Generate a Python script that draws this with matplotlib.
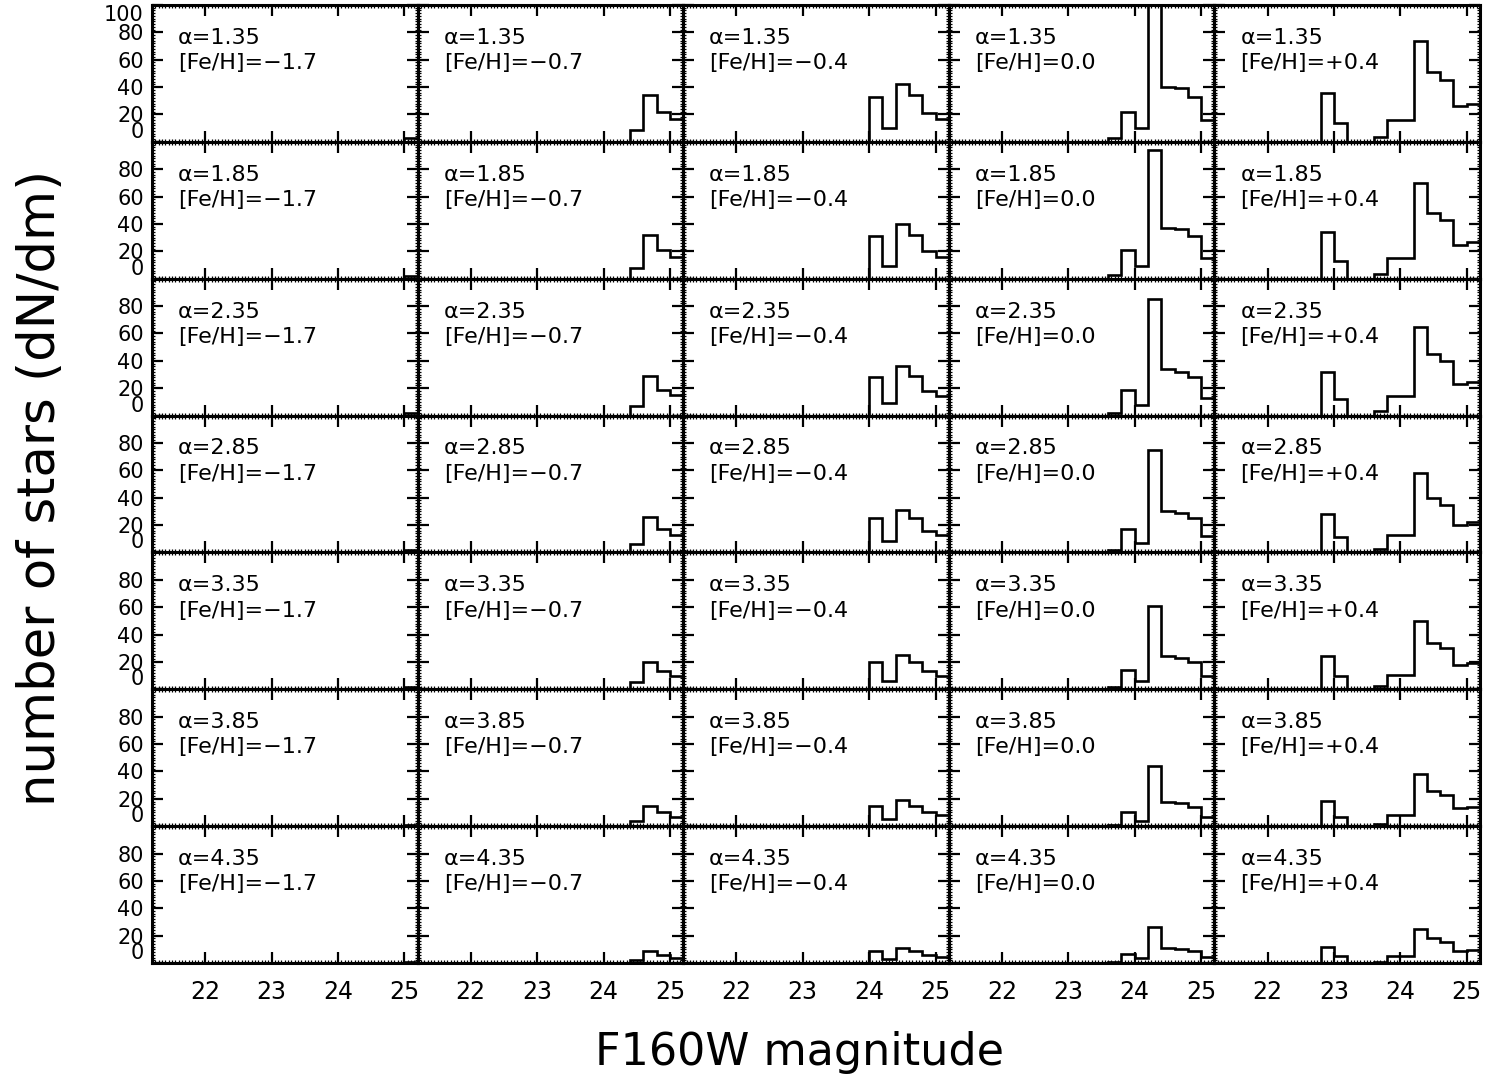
import numpy as np
import matplotlib
matplotlib.use("Agg")
import matplotlib.pyplot as plt
from matplotlib.ticker import MultipleLocator, FixedLocator

plt.rcParams['font.family'] = ['DejaVu Sans']

# ---------------- data ----------------
alphas = ["1.35", "1.85", "2.35", "2.85", "3.35", "3.85", "4.35"]
fehs = ["\u22121.7", "\u22120.7", "\u22120.4", "0.0", "+0.4"]
bin_width = 0.2
# magnitude of the first non-empty bin, per [Fe/H] column
col_start = [25.0, 24.4, 24.0, 23.6, 22.8]

# counts (dN/dm) per row (alpha), bins of 0.2 mag starting at col_start
counts_m17 = [
    [2.5], [2.3], [2.0], [1.8], [1.5], [1.1], [0.7],
]
counts_m07 = [
    [9, 34, 22, 17],
    [8, 32, 21, 16],
    [7, 29, 19, 15],
    [6, 26, 17, 13],
    [5, 20, 13, 10],
    [4, 15, 10, 7],
    [2, 9, 6, 4],
]
counts_m04 = [
    [33, 10, 42, 34, 21, 17],
    [31, 9.5, 40, 32, 20, 16],
    [28, 9, 36, 29, 18, 14.5],
    [25, 8, 31, 25, 16, 12.5],
    [20, 6, 25, 20, 13, 10],
    [15, 5, 19, 15, 10, 8],
    [9, 3, 11, 9, 6, 4.5],
]
counts_00 = [
    [3, 22, 10, 105, 40, 39, 33, 16],
    [3, 21, 9, 94, 37, 36, 31, 15],
    [2, 19, 8, 85, 34, 32, 28, 13],
    [2, 17, 7, 75, 30, 29, 25, 12],
    [2, 14, 6, 61, 24, 23, 20, 10],
    [1, 10, 4, 44, 18, 17, 14, 7],
    [1, 6.5, 4, 26, 11, 10, 9, 4.5],
]
counts_p04 = [
    [36, 14, 0, 0, 3.5, 16, 16, 74, 51, 45, 26, 28],
    [34, 13, 0, 0, 3.3, 15, 15, 70, 48, 43, 25, 26.5],
    [32, 12, 0, 0, 3.0, 14, 14, 65, 45, 40, 23, 24.5],
    [28, 11, 0, 0, 2.7, 12.5, 12.5, 58, 40, 35, 20, 22],
    [24, 9.5, 0, 0, 2.3, 10.7, 10.7, 50, 34, 30, 17.5, 19],
    [18.5, 7, 0, 0, 1.8, 8, 8, 38, 26, 23, 13, 14],
    [12, 5, 0, 0, 1.0, 5.2, 5.2, 24.5, 18, 15.5, 9, 9.3],
]
all_counts = [counts_m17, counts_m07, counts_m04, counts_00, counts_p04]

xticks = [22, 23, 24, 25]
yticks = [0, 20, 40, 60, 80, 100]
xlim = (21.2, 25.2)
ylim = (0, 100)

# ---------------- figure ----------------
nrows, ncols = len(alphas), len(fehs)
fig, axes = plt.subplots(nrows, ncols, figsize=(15.12, 10.85), dpi=100)
fig.subplots_adjust(left=152 / 1512, right=1480 / 1512,
                    top=1 - 5 / 1085, bottom=1 - 963 / 1085,
                    hspace=0, wspace=0)

for i in range(nrows):
    for j in range(ncols):
        ax = axes[i, j]
        vals = np.asarray(all_counts[j][i], dtype=float)
        edges = col_start[j] + bin_width * np.arange(len(vals) + 1)
        ax.stairs(vals, edges, baseline=0, color='black', lw=1.9)

        ax.set_xlim(*xlim)
        ax.set_ylim(*ylim)
        ax.xaxis.set_major_locator(FixedLocator(xticks))
        ax.xaxis.set_minor_locator(MultipleLocator(0.05))
        ax.yaxis.set_minor_locator(MultipleLocator(2))

        if i == 0:
            ylabels = [str(v) for v in yticks]
        else:
            ylabels = [str(v) for v in yticks[:-1]] + ['']
        ax.set_yticks(yticks)
        if j == 0:
            ax.set_yticklabels(ylabels)
        else:
            ax.set_yticklabels([])
        if i == nrows - 1:
            ax.set_xticklabels([str(v) for v in xticks])
        else:
            ax.set_xticklabels([])

        ax.tick_params(which='both', direction='in', top=True, right=True,
                       colors='black')
        ax.tick_params(which='major', length=8, width=1.6)
        ax.tick_params(which='minor', length=2.5, width=0.9)
        ax.tick_params(axis='y', which='major', labelsize=15, pad=6)
        ax.tick_params(axis='x', which='major', labelsize=17, pad=12)
        for sp in ax.spines.values():
            sp.set_linewidth(2.2)

        if j == 0:
            mt = ax.yaxis.get_major_ticks()
            mt[0].label1.set_verticalalignment('bottom')
            mt[-1].label1.set_verticalalignment('top')

        ax.text(0.098, 0.76, "\u03b1=" + alphas[i], transform=ax.transAxes,
                fontsize=16, ha='left', va='center')
        ax.text(0.098, 0.575, "[Fe/H]=" + fehs[j], transform=ax.transAxes,
                fontsize=16, ha='left', va='center')

fig.text(0.529, 0.030, "F160W magnitude", ha='center', va='center',
         fontsize=32)
fig.text(0.027, 0.550, "number of stars (dN/dm)", ha='center', va='center',
         rotation=90, fontsize=37)

fig.savefig("out.png", dpi=100, facecolor='white')
